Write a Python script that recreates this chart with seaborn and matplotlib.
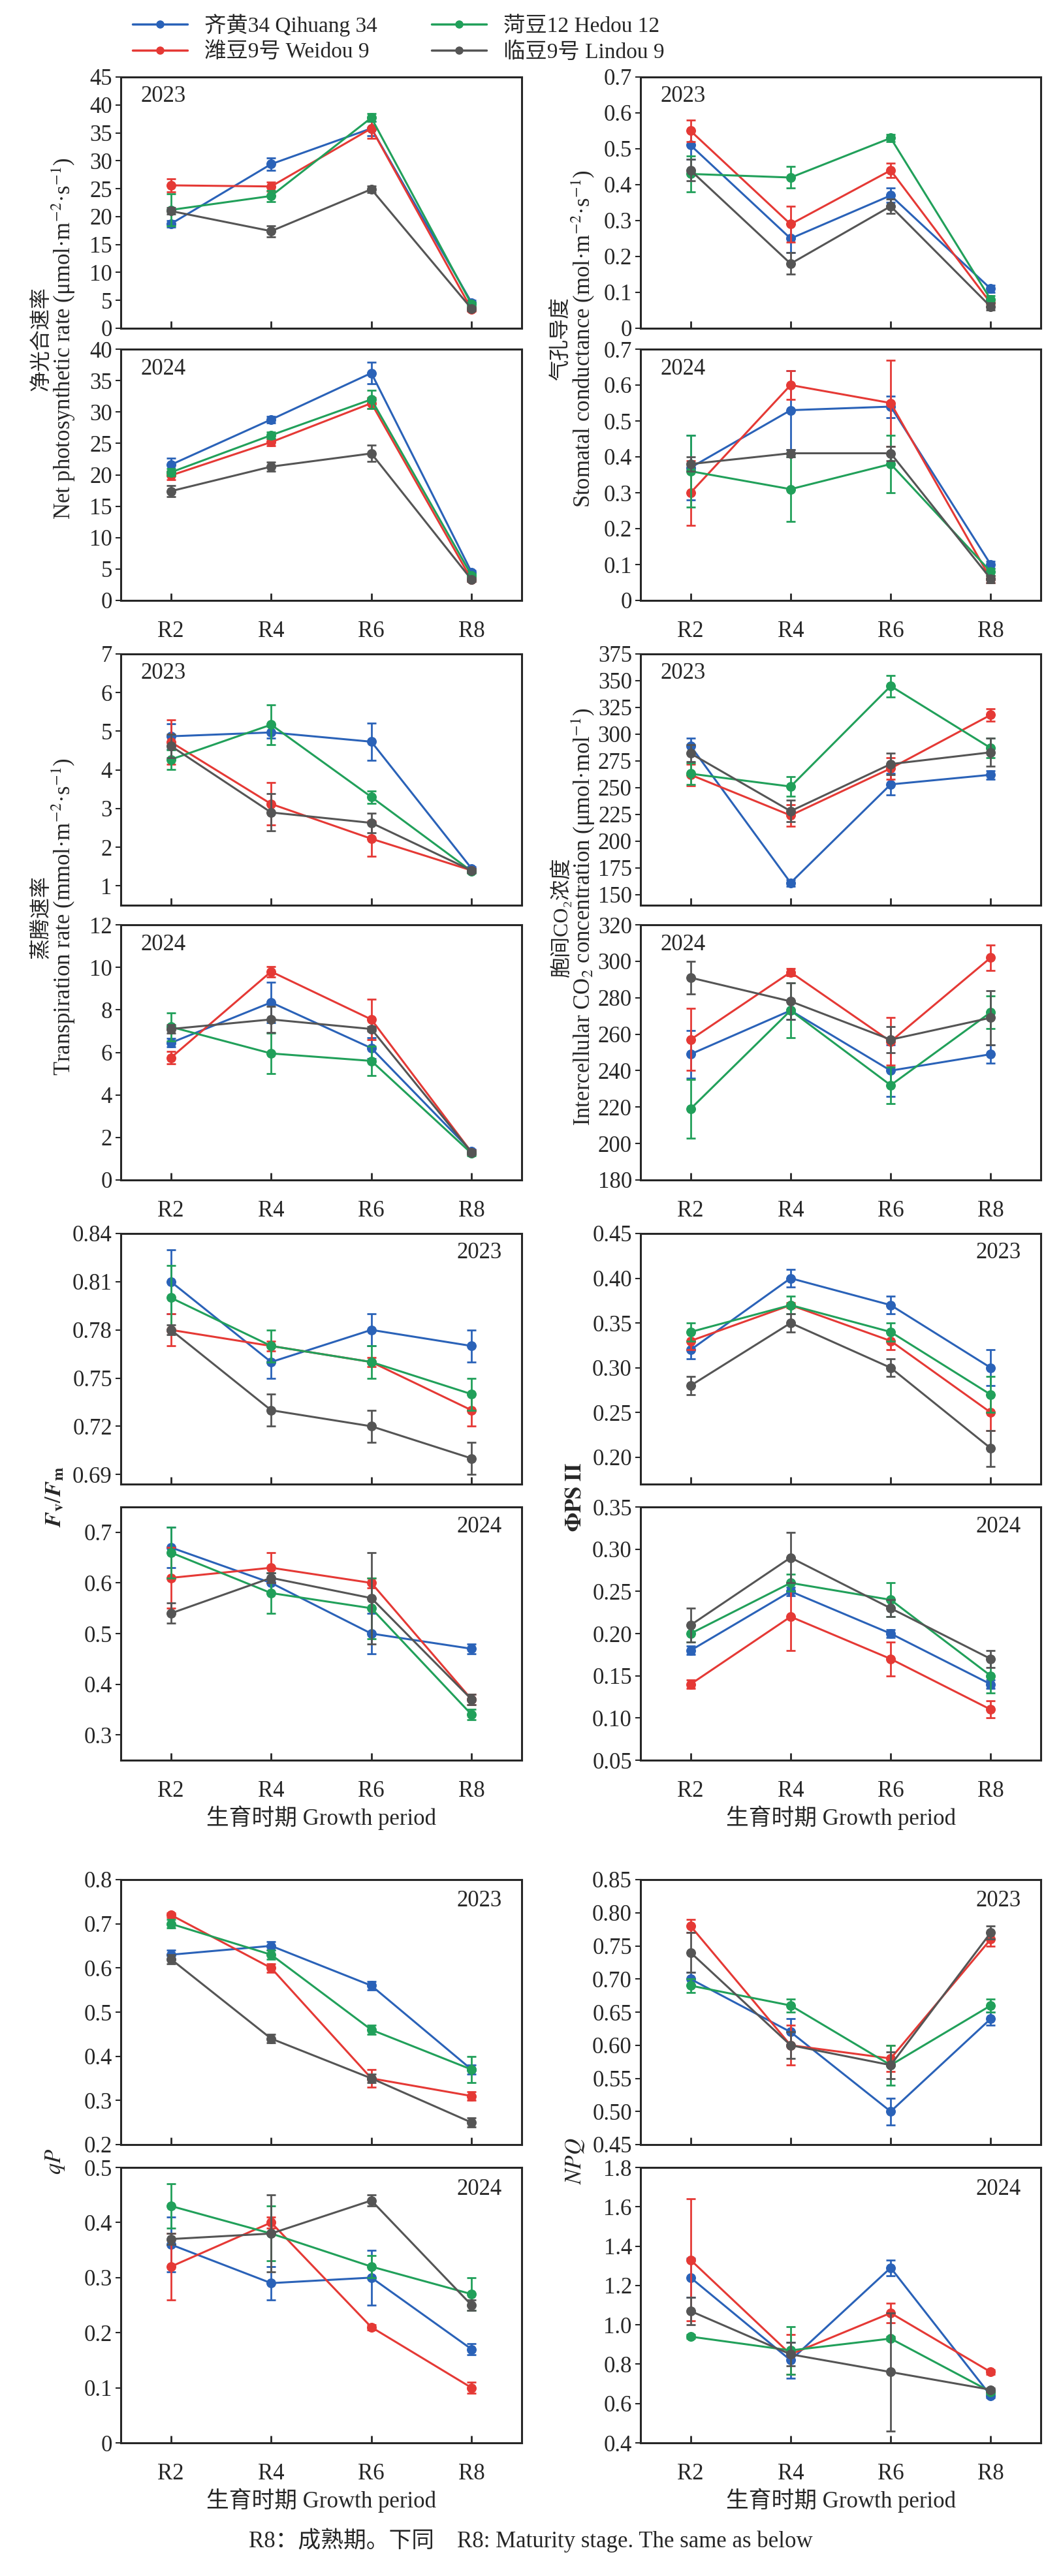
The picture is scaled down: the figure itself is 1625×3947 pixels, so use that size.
import numpy as np
import matplotlib
matplotlib.use("Agg")
import matplotlib.pyplot as plt
import seaborn as sns
from matplotlib.lines import Line2D

sns.set_style("ticks")
plt.rcParams['font.family'] = ['Liberation Serif', 'Noto Sans CJK SC', 'DejaVu Sans']
plt.rcParams['mathtext.fontset'] = 'stix'

stages = ["R2", "R4", "R6", "R8"]
cultivars = ["齐黄34 Qihuang 34", "潍豆9号 Weidou 9", "菏豆12 Hedou 12", "临豆9号 Lindou 9"]
colors = ["#2a62b8", "#e53935", "#21a05a", "#555555"]

pn23 = [[18.7, 29.4, 35.8, 4.6], [25.6, 25.4, 35.8, 3.4], [21.2, 23.7, 37.7, 4.3], [21.0, 17.4, 24.9, 3.5]]
pn23e = [[0.6, 1.1, 1.3, 0.4], [1.2, 0.8, 1.8, 0.4], [2.9, 1.0, 0.7, 0.4], [0.6, 1.0, 0.6, 0.3]]
pn24 = [[21.6, 28.8, 36.2, 4.5], [19.9, 25.2, 31.4, 3.3], [20.4, 26.3, 32.0, 4.0], [17.4, 21.3, 23.4, 3.3]]
pn24e = [[1.0, 0.5, 1.7, 0.3], [0.7, 0.6, 0.9, 0.3], [0.6, 0.5, 1.5, 0.3], [0.9, 0.7, 1.3, 0.3]]
gs23 = [[0.51, 0.25, 0.37, 0.11], [0.55, 0.29, 0.44, 0.07], [0.43, 0.42, 0.53, 0.08], [0.44, 0.18, 0.34, 0.06]]
gs23e = [[0.04, 0.04, 0.02, 0.01], [0.03, 0.05, 0.02, 0.01], [0.05, 0.03, 0.01, 0.01], [0.03, 0.03, 0.02, 0.01]]
gs24 = [[0.37, 0.53, 0.54, 0.10], [0.30, 0.60, 0.55, 0.06], [0.36, 0.31, 0.38, 0.08], [0.38, 0.41, 0.41, 0.06]]
gs24e = [[0.09, 0.11, 0.03, 0.01], [0.09, 0.04, 0.12, 0.01], [0.10, 0.09, 0.08, 0.01], [0.02, 0.01, 0.02, 0.01]]
tr23 = [[4.87, 4.97, 4.73, 1.45], [4.72, 3.12, 2.22, 1.40], [4.27, 5.17, 3.30, 1.38], [4.62, 2.90, 2.63, 1.40]]
tr23e = [[0.33, 0.15, 0.48, 0.05], [0.58, 0.55, 0.45, 0.05], [0.25, 0.52, 0.16, 0.05], [0.30, 0.48, 0.25, 0.05]]
tr24 = [[6.45, 8.35, 6.2, 1.35], [5.75, 9.8, 7.55, 1.3], [7.2, 5.95, 5.6, 1.25], [7.1, 7.55, 7.1, 1.3]]
tr24e = [[0.2, 0.95, 0.5, 0.1], [0.3, 0.25, 0.95, 0.1], [0.65, 0.95, 0.7, 0.1], [0.2, 0.6, 0.1, 0.1]]
ci23 = [[289, 161, 253, 262], [262, 224, 268, 318], [263, 251, 345, 287], [282, 228, 272, 283]]
ci23e = [[7, 3, 10, 4], [10, 10, 10, 6], [10, 9, 10, 9], [8, 10, 10, 13]]
ci24 = [[249, 273, 240, 249], [257, 294, 256, 302], [219, 273, 232, 272], [291, 278, 257, 269]]
ci24e = [[13, 5, 14, 5], [17, 2, 13, 7], [16, 15, 10, 9], [9, 10, 7, 15]]
fv23 = [[0.81, 0.76, 0.78, 0.77], [0.78, 0.77, 0.76, 0.73], [0.80, 0.77, 0.76, 0.74], [0.78, 0.73, 0.72, 0.70]]
fv23e = [[0.02, 0.01, 0.01, 0.01], [0.01, 0.003, 0.003, 0.01], [0.02, 0.01, 0.01, 0.01], [0.003, 0.01, 0.01, 0.01]]
fv24 = [[0.67, 0.60, 0.50, 0.47], [0.61, 0.63, 0.60, 0.37], [0.66, 0.58, 0.55, 0.34], [0.54, 0.61, 0.57, 0.37]]
fv24e = [[0.04, 0.02, 0.04, 0.01], [0.06, 0.03, 0.01, 0.01], [0.05, 0.04, 0.06, 0.01], [0.02, 0.01, 0.09, 0.01]]
ph23 = [[0.32, 0.40, 0.37, 0.30], [0.33, 0.37, 0.33, 0.25], [0.34, 0.37, 0.34, 0.27], [0.28, 0.35, 0.30, 0.21]]
ph23e = [[0.01, 0.01, 0.01, 0.02], [0.01, 0.003, 0.01, 0.02], [0.01, 0.01, 0.01, 0.02], [0.01, 0.01, 0.01, 0.02]]
ph24 = [[0.18, 0.25, 0.20, 0.14], [0.14, 0.22, 0.17, 0.11], [0.20, 0.26, 0.24, 0.15], [0.21, 0.29, 0.23, 0.17]]
ph24e = [[0.005, 0.005, 0.005, 0.005], [0.005, 0.04, 0.02, 0.01], [0.01, 0.01, 0.02, 0.02], [0.02, 0.03, 0.01, 0.01]]
qp23 = [[0.63, 0.65, 0.56, 0.37], [0.72, 0.60, 0.35, 0.31], [0.70, 0.63, 0.46, 0.37], [0.62, 0.44, 0.35, 0.25]]
qp23e = [[0.01, 0.01, 0.01, 0.01], [0.005, 0.01, 0.02, 0.01], [0.01, 0.01, 0.01, 0.03], [0.01, 0.01, 0.01, 0.01]]
qp24 = [[0.36, 0.29, 0.30, 0.17], [0.32, 0.40, 0.21, 0.10], [0.43, 0.38, 0.32, 0.27], [0.37, 0.38, 0.44, 0.25]]
qp24e = [[0.05, 0.03, 0.05, 0.01], [0.06, 0.01, 0.005, 0.01], [0.04, 0.05, 0.02, 0.03], [0.01, 0.07, 0.01, 0.01]]
npq23 = [[0.70, 0.62, 0.50, 0.64], [0.78, 0.60, 0.58, 0.76], [0.69, 0.66, 0.57, 0.66], [0.74, 0.60, 0.57, 0.77]]
npq23e = [[0.01, 0.02, 0.02, 0.01], [0.01, 0.03, 0.02, 0.01], [0.01, 0.01, 0.03, 0.01], [0.03, 0.02, 0.02, 0.01]]
npq24 = [[1.24, 0.82, 1.29, 0.64], [1.33, 0.85, 1.06, 0.76], [0.94, 0.87, 0.93, 0.66], [1.07, 0.85, 0.76, 0.67]]
npq24e = [[0.10, 0.09, 0.04, 0.01], [0.31, 0.10, 0.05, 0.01], [0.01, 0.12, 0.01, 0.01], [0.07, 0.06, 0.30, 0.01]]

W, H = 1625, 3947
fig = plt.figure(figsize=(W / 100, H / 100), dpi=100)

cols = [(185, 799), (981, 1594)]
groups = [((118, 503), (535, 920)), ((1002, 1387), (1417, 1808)),
          ((1890, 2274), (2309, 2697)), ((2880, 3286), (3321, 3743))]

def mk(px0, px1, py0, py1):
    return fig.add_axes([px0 / W, 1 - py1 / H, (px1 - px0) / W, (py1 - py0) / H])

def draw(ax, data, err, ylim, ticks, fmt, year, yearpos, showx):
    for vals, e, c in zip(data, err, colors):
        sns.lineplot(x=stages, y=vals, ax=ax, color=c, marker='o', markersize=10,
                     markeredgecolor=c, linewidth=2.2, sort=False)
        ax.errorbar(range(4), vals, yerr=e, fmt='none', ecolor=c, elinewidth=2, capsize=5, capthick=2)
    ax.set_xlim(-0.5, 3.5)
    ax.set_ylim(*ylim)
    ax.set_yticks(ticks)
    ax.set_yticklabels([fmt(t) for t in ticks])
    ax.set_xticks(range(4))
    ax.set_xticklabels(stages if showx else [])
    ax.tick_params(axis='x', direction='in', length=8, width=2, labelsize=25, pad=22)
    ax.tick_params(axis='y', direction='out', length=6, width=1.5, labelsize=25)
    for s in ax.spines.values():
        s.set_linewidth(2.2)
    ax.set_xlabel(''); ax.set_ylabel('')
    if yearpos == 'left':
        ax.text(0.05, 0.9, year, transform=ax.transAxes, fontsize=25)
    else:
        ax.text(0.95, 0.9, year, transform=ax.transAxes, fontsize=25, ha='right')

fi = lambda t: f"{t:g}"
f2 = lambda t: f"{t:.2f}"
f1 = lambda t: f"{t:.1f}"
f1z = lambda t: "0" if abs(t) < 1e-9 else f"{t:.1f}"

specs = [
    [(pn23, pn23e, (0, 45), np.arange(0, 46, 5), fi), (pn24, pn24e, (0, 40), np.arange(0, 41, 5), fi),
     (gs23, gs23e, (0, 0.7), np.arange(0, 0.71, 0.1), f1z),
     (gs24, gs24e, (0, 0.7), np.arange(0, 0.71, 0.1), f1z), 'left'],
    [(tr23, tr23e, (0.5, 7), np.arange(1, 8, 1), fi), (tr24, tr24e, (0, 12), np.arange(0, 13, 2), fi),
     (ci23, ci23e, (140, 375), np.arange(150, 376, 25), fi), (ci24, ci24e, (180, 320), np.arange(180, 321, 20), fi), 'left'],
    [(fv23, fv23e, (0.684, 0.84), np.arange(0.69, 0.841, 0.03), f2), (fv24, fv24e, (0.25, 0.75), np.arange(0.3, 0.71, 0.1), f1),
     (ph23, ph23e, (0.17, 0.45), np.arange(0.20, 0.451, 0.05), f2), (ph24, ph24e, (0.05, 0.35), np.arange(0.05, 0.351, 0.05), f2), 'right'],
    [(qp23, qp23e, (0.2, 0.8), np.arange(0.2, 0.81, 0.1), f1), (qp24, qp24e, (0, 0.5), np.arange(0, 0.51, 0.1), f1z),
     (npq23, npq23e, (0.45, 0.85), np.arange(0.45, 0.851, 0.05), f2), (npq24, npq24e, (0.4, 1.8), np.arange(0.4, 1.81, 0.2), f1), 'right'],
]

ylabels = [
    (["净光合速率", "Net photosynthetic rate (μmol·m$^{-2}$·s$^{-1}$)"], ["气孔导度", "Stomatal conductance (mol·m$^{-2}$·s$^{-1}$)"]),
    (["蒸腾速率", "Transpiration rate (mmol·m$^{-2}$·s$^{-1}$)"], ["胞间CO₂浓度", "Intercellular CO$_2$ concentration (μmol·mol$^{-1}$)"]),
    ([r"$\boldsymbol{F}_\mathbf{v}/\boldsymbol{F}_\mathbf{m}$"], [r"$\mathbf{\Phi PS\ II}$"]),
    ([r"$qP$"], [r"$NPQ$"]),
]

for gi, (spec, grp, yl) in enumerate(zip(specs, groups, ylabels)):
    a23, a24, b23, b24, ypos = spec
    (t0, t1), (b0, b1) = grp
    for ci, (p23, p24) in enumerate([(a23, a24), (b23, b24)]):
        x0, x1 = cols[ci]
        ax1 = mk(x0, x1, t0, t1)
        draw(ax1, *p23, "2023", ypos, False)
        ax2 = mk(x0, x1, b0, b1)
        draw(ax2, *p24, "2024", ypos, True)
        ymid = 1 - ((t0 + b1) / 2) / H
        lab = yl[ci]
        if len(lab) == 2:
            xs = [x0 - 122, x0 - 88]
            fig.text(xs[0] / W, ymid, lab[0], rotation=90, ha='center', va='center', fontsize=23)
            fig.text(xs[1] / W, ymid, lab[1], rotation=90, ha='center', va='center', fontsize=25)
        else:
            fig.text((x0 - 100) / W, ymid, lab[0], rotation=90, ha='center', va='center', fontsize=25)
        if gi >= 2:
            fig.text(((x0 + x1) / 2) / W, 1 - (b1 + 88) / H, "生育时期 Growth period",
                     ha='center', va='center', fontsize=25)

fig.text(0.5, 1 - 3892 / H, "R8：成熟期。下同    R8: Maturity stage. The same as below",
         ha='center', va='center', fontsize=25)

handles = [Line2D([], [], color=c, marker='o', markersize=8, linewidth=2.5) for c in colors]
fig.legend(handles, cultivars, ncol=2, frameon=False,
           loc='upper left', bbox_to_anchor=(190 / W, 1 - 8 / H), fontsize=24,
           columnspacing=2.5, handlelength=2.5, labelspacing=0.25, borderaxespad=0)

fig.savefig("out.png", dpi=100)
